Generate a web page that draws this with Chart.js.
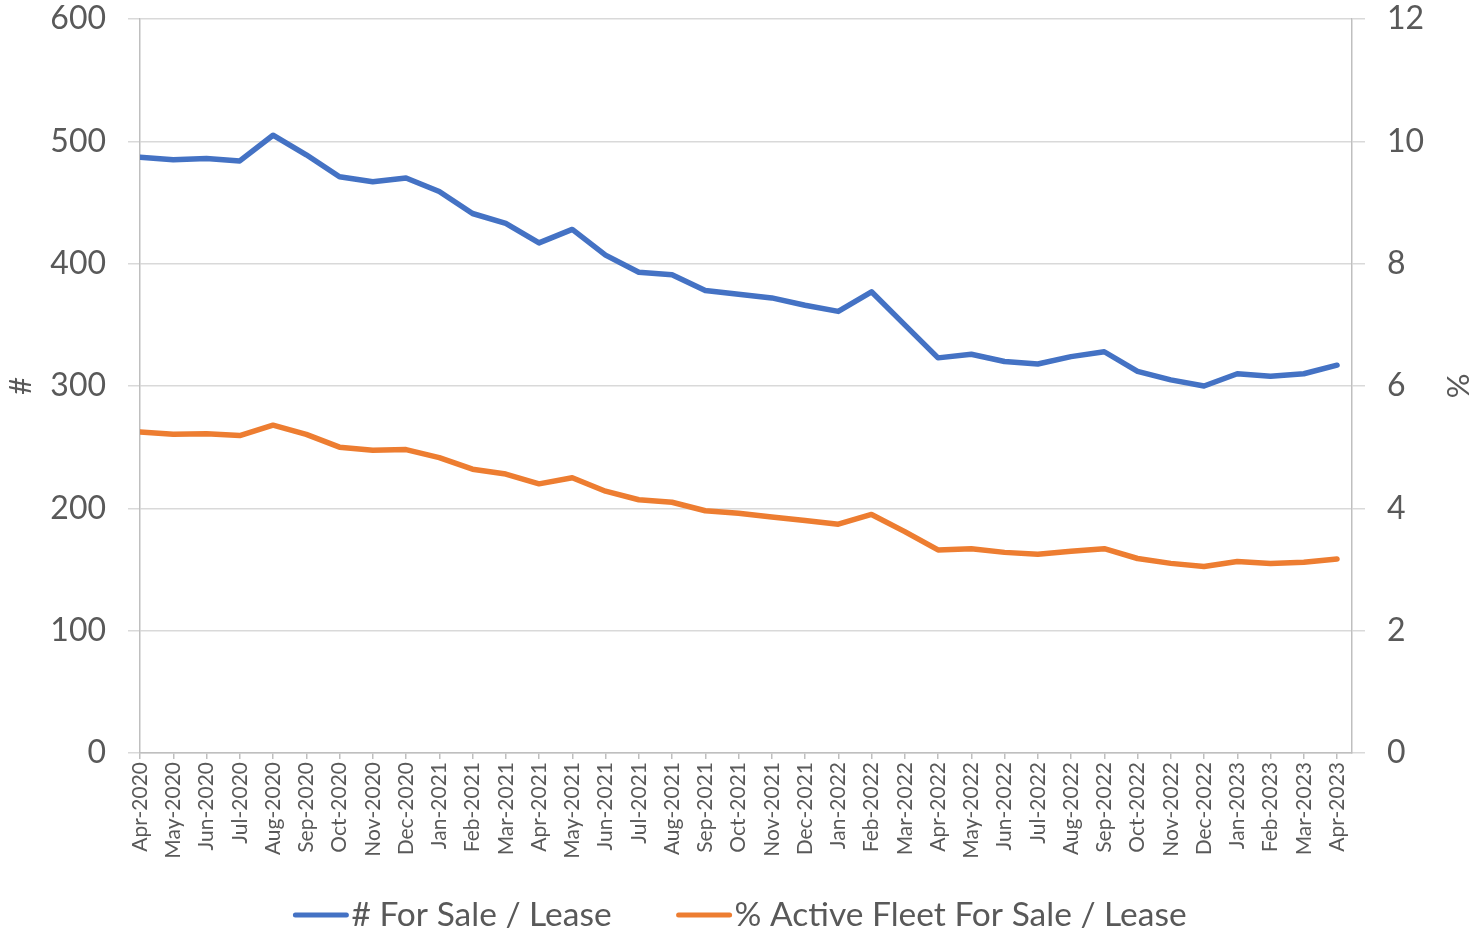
<!DOCTYPE html>
<html>
<head>
<meta charset="utf-8">
<script src="https://cdn.jsdelivr.net/npm/chart.js@4.4.0/dist/chart.umd.min.js"></script>
<style>
  html, body { margin: 0; padding: 0; background: #fff; }
  #wrap { width: 1479px; height: 932px; }
</style>
</head>
<body>
<div id="wrap"><canvas id="fleetChart" width="1479" height="932"></canvas></div>
<script>
// ===== data =====
const months = ['Apr-2020', 'May-2020', 'Jun-2020', 'Jul-2020', 'Aug-2020', 'Sep-2020', 'Oct-2020', 'Nov-2020', 'Dec-2020',
    'Jan-2021', 'Feb-2021', 'Mar-2021', 'Apr-2021', 'May-2021', 'Jun-2021', 'Jul-2021', 'Aug-2021', 'Sep-2021', 'Oct-2021', 'Nov-2021', 'Dec-2021',
    'Jan-2022', 'Feb-2022', 'Mar-2022', 'Apr-2022', 'May-2022', 'Jun-2022', 'Jul-2022', 'Aug-2022', 'Sep-2022', 'Oct-2022', 'Nov-2022', 'Dec-2022',
    'Jan-2023', 'Feb-2023', 'Mar-2023', 'Apr-2023'];
const forSaleCount = [487, 485, 486, 484, 505, 489, 471, 467, 470,
    459, 441, 433, 417, 428, 407, 393, 391, 378, 375, 372, 366,
    361, 377, 350, 323, 326, 320, 318, 324, 328, 312, 305, 300,
    310, 308, 310, 317];
const activeFleetPct = [5.25, 5.21, 5.22, 5.19, 5.36, 5.21, 5.00, 4.95, 4.96,
    4.83, 4.64, 4.56, 4.40, 4.50, 4.28, 4.14, 4.10, 3.96, 3.92, 3.86, 3.80,
    3.74, 3.90, 3.62, 3.32, 3.34, 3.28, 3.25, 3.30, 3.34, 3.18, 3.10, 3.05,
    3.13, 3.10, 3.12, 3.17];
const leftTicks = [0, 100, 200, 300, 400, 500, 600];
const rightTicks = [0, 2, 4, 6, 8, 10, 12];
const seriesNames = ['# For Sale / Lease', '% Active Fleet For Sale / Lease'];

const FONT = 'Lato, Carlito, Calibri, sans-serif';
const TXT = '#595959';
const GRID = '#d9d9d9';

// legend drawn by hand (Excel style: long line + text)
const excelLegend = {
    id: 'excelLegend',
    afterDraw(chart) {
        const c = chart.ctx;
        const lineLen = 55, gap = 3, spacing = 65;
        c.save();
        c.font = '33.5px ' + FONT;
        const items = chart.data.datasets.map(ds => ({ text: ds.label, color: ds.borderColor, w: c.measureText(ds.label).width }));
        const total = items.reduce((s, it) => s + lineLen + gap + it.w, 0) + spacing * (items.length - 1);
        let x = 740 - total / 2;
        const y = 915;
        items.forEach(it => {
            c.strokeStyle = it.color;
            c.lineWidth = 5;
            c.lineCap = 'round';
            c.beginPath();
            c.moveTo(x + 2, y);
            c.lineTo(x + lineLen - 2, y);
            c.stroke();
            c.fillStyle = TXT;
            c.textBaseline = 'middle';
            c.textAlign = 'left';
            c.fillText(it.text, x + lineLen + gap, y);
            x += lineLen + gap + it.w + spacing;
        });
        c.restore();
    }
};

// fixed axis sizes so the plot area sits where the Excel one does
function fitVertical(width) {
    return s => {
        s.width = width;
        s.paddingTop = 19;
        s.paddingBottom = 0;
    };
}

const ctx = document.getElementById('fleetChart');
new Chart(ctx, {
    type: 'line',
    data: {
        datasets: [{
            label: seriesNames[0],
            data: forSaleCount.map((v, i) => ({ x: i, y: v })),
            borderColor: '#4472C4',
            backgroundColor: '#4472C4',
            borderWidth: 5.5,
            pointRadius: 0,
            tension: 0,
            borderJoinStyle: 'round',
            borderCapStyle: 'round',
            yAxisID: 'y'
        }, {
            label: seriesNames[1],
            data: activeFleetPct.map((v, i) => ({ x: i, y: v })),
            borderColor: '#ED7D31',
            backgroundColor: '#ED7D31',
            borderWidth: 5.5,
            pointRadius: 0,
            tension: 0,
            borderJoinStyle: 'round',
            borderCapStyle: 'round',
            yAxisID: 'y1'
        }]
    },
    options: {
        responsive: false,
        animation: false,
        layout: { padding: { top: 0, bottom: 59, left: 0, right: 0 } },
        plugins: { legend: { display: false }, tooltip: { enabled: false } },
        scales: {
            x: {
                type: 'linear',
                min: 0,
                max: 36.45,
                afterBuildTicks: s => { s.ticks = months.map((_, i) => ({ value: i })); },
                afterFit: s => { s.height = 120; s.paddingLeft = 0; s.paddingRight = 0; },
                ticks: {
                    autoSkip: false,
                    minRotation: 90,
                    maxRotation: 90,
                    padding: 3,
                    color: TXT,
                    font: { family: FONT, size: 21 },
                    callback: v => months[v]
                },
                grid: { drawOnChartArea: false, color: '#bfbfbf', lineWidth: 1.5, tickLength: 6 },
                border: { color: '#bfbfbf', width: 1.5 }
            },
            y: {
                position: 'left',
                min: 0,
                max: 600,
                afterBuildTicks: s => { s.ticks = leftTicks.map(v => ({ value: v })); },
                afterFit: fitVertical(140),
                ticks: { color: TXT, padding: 22, font: { family: FONT, size: 32 } },
                grid: { color: GRID, lineWidth: 1.5, tickLength: 12 },
                border: { color: '#bfbfbf', width: 1.5 },
                title: { display: true, text: '#', color: TXT, font: { family: FONT, size: 31 }, padding: { top: 2, bottom: 0 } }
            },
            y1: {
                position: 'right',
                min: 0,
                max: 12,
                afterBuildTicks: s => { s.ticks = rightTicks.map(v => ({ value: v })); },
                afterFit: fitVertical(127),
                ticks: { color: TXT, padding: 22, font: { family: FONT, size: 32 } },
                grid: { drawOnChartArea: false, color: GRID, lineWidth: 1.5, tickLength: 13 },
                border: { color: '#bfbfbf', width: 1.5 },
                title: { display: true, text: '%', color: TXT, font: { family: FONT, size: 31 }, padding: { top: 3, bottom: 0 } }
            }
        }
    },
    plugins: [excelLegend]
});
</script>
</body>
</html>
